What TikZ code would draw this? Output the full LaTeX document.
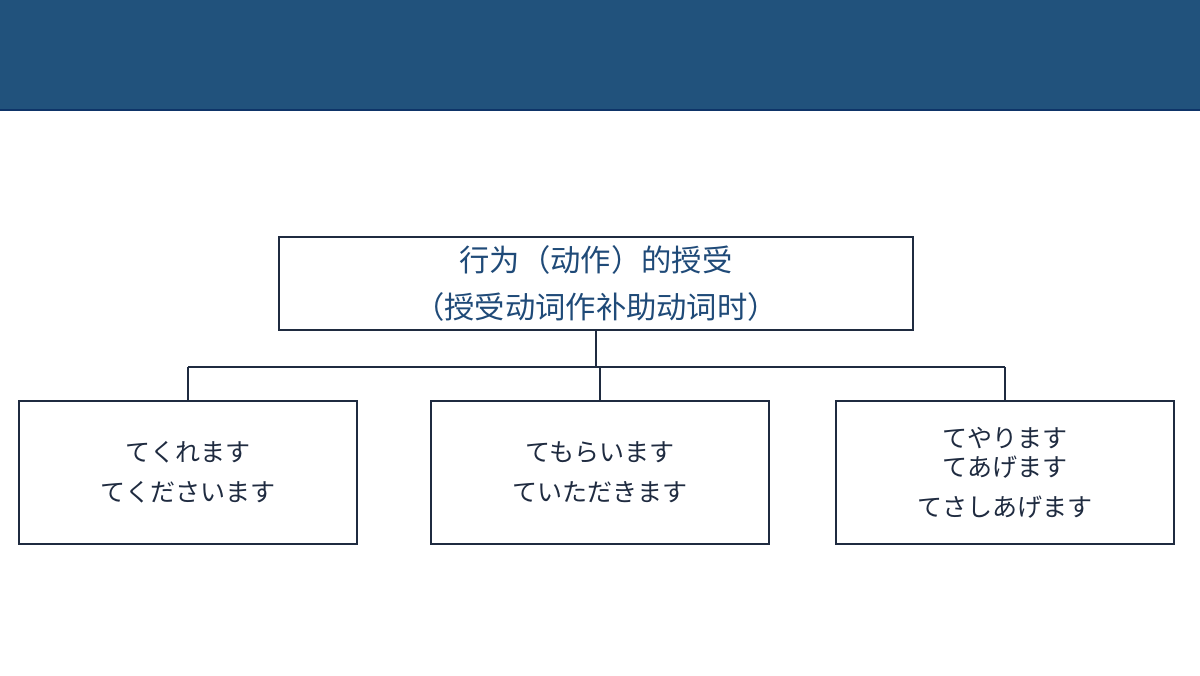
\documentclass[tikz,border=0pt]{standalone}
\usepackage{fontspec}
\newfontfamily\cjksc{Noto Sans CJK SC}
\newfontfamily\cjkjp{Noto Sans CJK JP}
\usetikzlibrary{positioning}
\definecolor{headblue}{HTML}{21527C}
\definecolor{headline}{HTML}{0E3468}
\definecolor{titleblue}{HTML}{1F4A78}
\definecolor{inkdark}{HTML}{1F2B40}

\begin{document}
\begin{tikzpicture}[x=0.013333cm, y=-0.013333cm,
    box/.style={draw=inkdark, line width=0.5pt, inner sep=0pt, align=center},
    kana/.style={box, text=inkdark, minimum width=4.507cm, minimum height=1.907cm,
                 font=\cjkjp\fontsize{9.5}{15.1}\selectfont}]
    \useasboundingbox (0,0) rectangle (1200,675);
    % header band
    \fill[headblue] (0,0) rectangle (1200,110);
    \draw[headline, line width=0.5pt] (0,110) -- (1200,110);

    % root
        \node[box,
              text=titleblue,
              minimum width=8.453cm,
              minimum height=1.24cm,
              font=\cjksc\fontsize{11.5}{17.8}\selectfont] (root) at (596,283.5)
              {行为（动作）的授受\\（授受动词作补助动词时）};

    % children
        \node[kana] (kureru) at (188,472.5) {てくれます\\てくださいます};
        \node[kana] (morau) at (600,472.5) {てもらいます\\ていただきます};
        \node[kana] (yaru) at (1005,472.5) {てやります\\[-4pt]てあげます\\てさしあげます};

    % connectors
        \coordinate (busL) at (188,367);
        \coordinate (busR) at (1005,367);
        \draw[inkdark, line width=0.5pt]
            (busL) -- (busR)
            (root.south) -- (root.south |- busL)
            (kureru.north) -- (busL)
            (morau.north) -- (morau.north |- busL)
            (yaru.north) -- (busR);
\end{tikzpicture}
\end{document}
